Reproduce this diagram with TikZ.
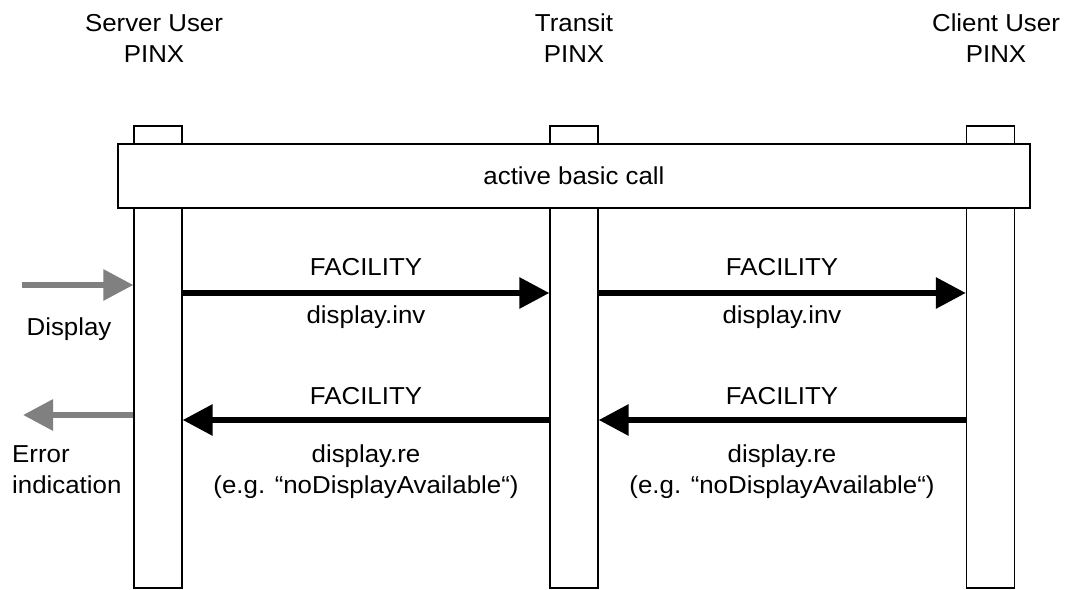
\documentclass[tikz,border=0pt]{standalone}
\usepackage{fontspec}
\setmainfont{Liberation Sans}[FakeStretch=1.055]
\usetikzlibrary{arrows.meta}
\definecolor{arrgrey}{RGB}{128,128,128}
\begin{document}
\begin{tikzpicture}[x=1bp,y=-1bp,
  font=\fontsize{24.5bp}{31bp}\selectfont,
  lifeline/.style={draw, line width=1.3bp, minimum width=48bp, minimum height=462bp, inner sep=0pt, fill=white},
  callbox/.style={draw, line width=1.3bp, fill=white, minimum width=912bp, minimum height=64bp, inner sep=0pt},
  msg/.style={line width=6bp, -{Triangle[length=30bp,width=30bp]}},
  ext/.style={line width=6bp, draw=arrgrey, -{Triangle[length=30bp,width=30bp]}},
  lbl/.style={inner sep=0pt, anchor=base, align=center}]
\useasboundingbox (0,0) rectangle (1072,590);
% lifelines
\node[lifeline] (S) at (158,357) {};
\node[lifeline] (T) at (574,357) {};
\node[lifeline] (C) at (990.5,357) {};
\node[callbox] (call) at (574,176) {active basic call};
% headers (anchor = baseline of last line)
\node[lbl] (hS) at (154,63) {Server User\\PINX};
\node[lbl] (hT) at (574,63) {Transit\\PINX};
\node[lbl] (hC) at (996,63) {Client User\\PINX};
% message rows
\coordinate (r1) at (0,293);
\coordinate (r2) at (0,420);
\draw[msg] (S.east |- r1) -- (T.west |- r1);
\draw[msg] (T.east |- r1) -- (C.west |- r1);
\draw[msg] (C.west |- r2) -- (T.east |- r2);
\draw[msg] (T.west |- r2) -- (S.east |- r2);
\node[lbl] (f1) at (366,276) {FACILITY};
\node[lbl] (d1) at (366,323) {display.inv};
\node[lbl] (f2) at (782,276) {FACILITY};
\node[lbl] (d2) at (782,323) {display.inv};
\node[lbl] (f3) at (366,404) {FACILITY};
\node[lbl] (e3) at (366,493) {display.re\\(e.g. “noDisplayAvailable“)};
\node[lbl] (f4) at (782,404) {FACILITY};
\node[lbl] (e4) at (782,493) {display.re\\(e.g. “noDisplayAvailable“)};
% external
\coordinate (din) at (22,285);
\coordinate (eout) at (23,415);
\draw[ext] (din) -- (din -| S.west);
\draw[ext] (eout -| S.west) -- (eout);
\node[lbl] (disp) at (69,335) {Display};
\node[inner sep=0pt, anchor=base west, align=left] (err) at (12,493) {Error\\indication};
\end{tikzpicture}
\end{document}
